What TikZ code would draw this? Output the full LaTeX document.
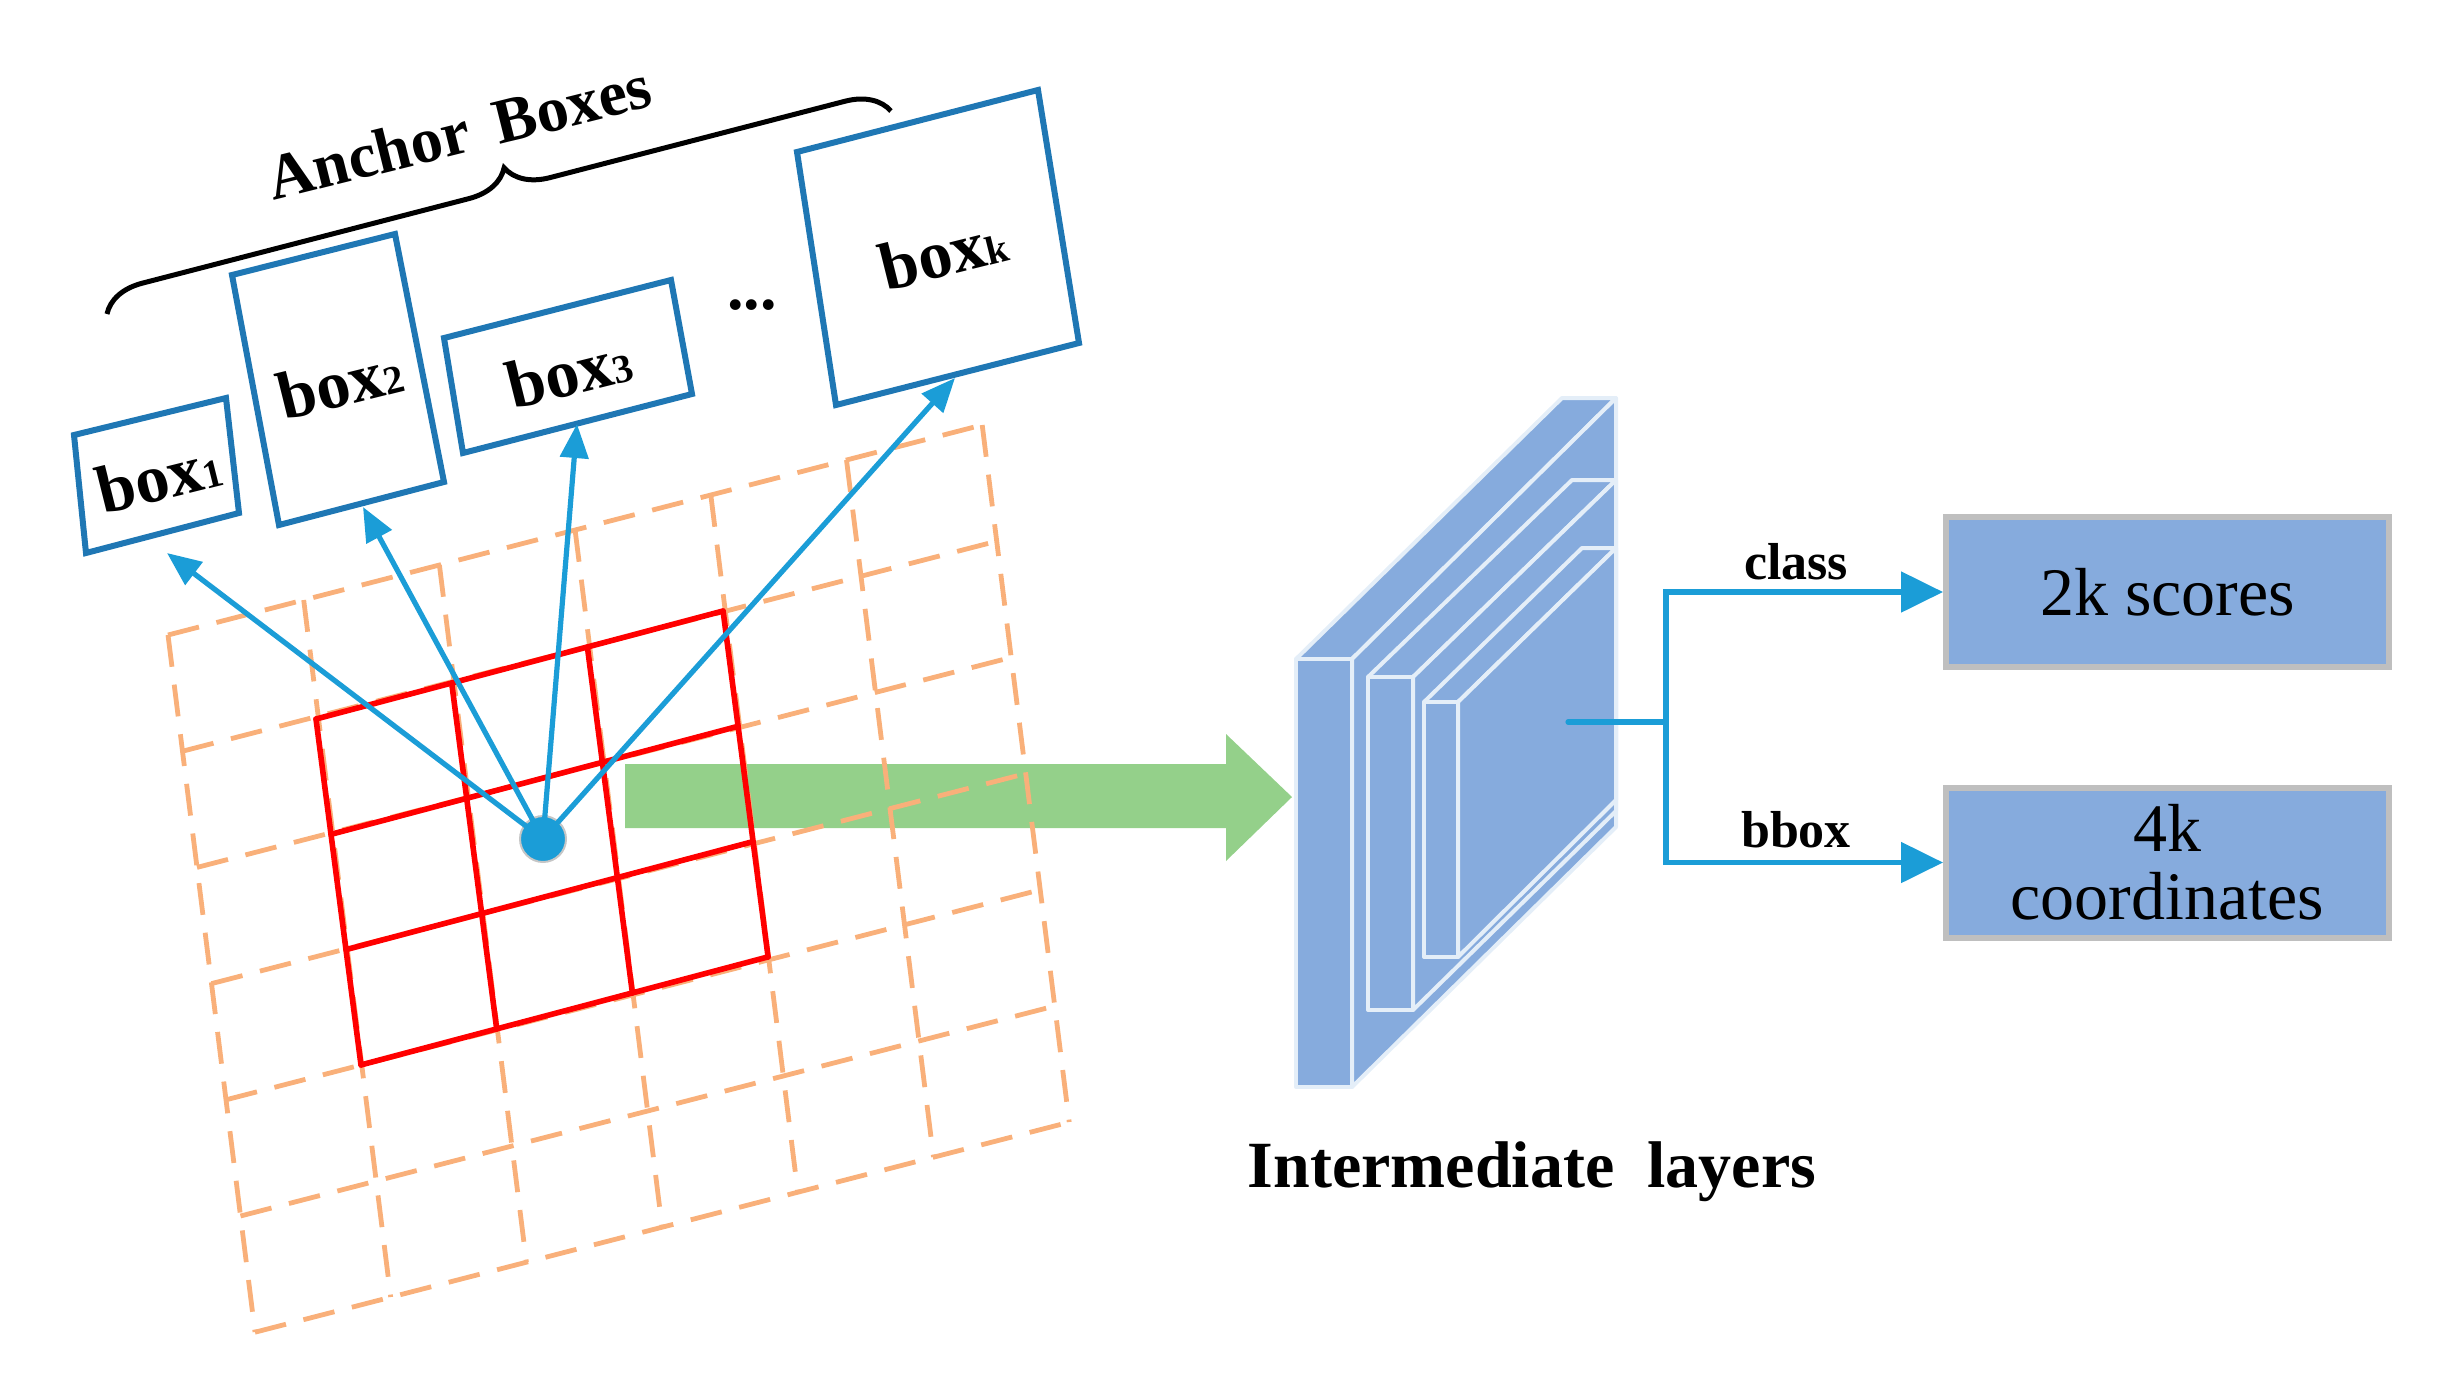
\documentclass[tikz,border=0pt]{standalone}
\usepackage{fontspec}
\setmainfont{Liberation Serif}
\usetikzlibrary{arrows.meta,decorations.pathreplacing,calc}
\definecolor{bxblue}{RGB}{31,119,180}
\definecolor{arblue}{RGB}{27,157,215}
\definecolor{dorange}{RGB}{249,176,122}
\definecolor{lgreen}{RGB}{148,208,138}
\definecolor{lblue}{RGB}{134,171,221}
\definecolor{ledge}{RGB}{228,238,248}
\definecolor{gbord}{RGB}{191,191,191}
\newcommand{\sbx}[1]{{\fontsize{20}{20}\selectfont #1}}
\begin{document}
\begin{tikzpicture}[x=0.5pt,y=-0.5pt,
  anchorbox/.style={draw=bxblue,line width=3pt,line join=miter},
  boxlbl/.style={font=\bfseries\fontsize{34}{36}\selectfont,rotate=14,inner sep=0pt},
  aarrow/.style={draw=arblue,line width=2.6pt,-{Triangle[length=17pt,width=14pt]}},
  garrow/.style={draw=dorange,line width=2.4pt,dash pattern=on 16pt off 9pt},
  rgrid/.style={draw=red,line width=2.8pt},
  layer/.style={fill=lblue,draw=ledge,line width=2pt,line join=round},
  outbox/.style={fill=lblue,draw=gbord,line width=3pt,minimum width=221.5pt,minimum height=75pt,font=\fontsize{34}{38}\selectfont,align=center,inner sep=0pt},
  carrow/.style={draw=arblue,line width=2.6pt,-{Triangle[length=21pt,width=20pt]}},
  clbl/.style={font=\bfseries\fontsize{26}{28}\selectfont}]
\useasboundingbox (0,0) rectangle (2453,1388);

% green arrow
\fill[lgreen] (625,764) -- (1226,764) -- (1226,734) -- (1292,797) -- (1226,861) -- (1226,828) -- (625,828) -- cycle;

% dashed grid
\foreach \i in {0,...,6}{
  \draw[garrow] ($(168,635)+\i*(135.7,-35)$) -- ++(87,697);
  \draw[garrow] ($(168,635)+\i*(14.5,116.2)$) -- ++(814.2,-210);
}
% red grid
\foreach \i in {0,...,3}{
  \draw[rgrid,line cap=round] ($(316,719)+\i*(135.7,-36)$) -- ++(45,346);
  \draw[rgrid,line cap=round] ($(316,719)+\i*(15,115.3)$) -- ++(407,-108);
}

% anchor boxes
\draw[anchorbox] (74,435) -- (226,398) -- (239,513) -- (86,553) -- cycle;
\draw[anchorbox] (232,275) -- (395,234) -- (444,482) -- (279,525) -- cycle;
\draw[anchorbox] (444,338) -- (671,280) -- (692,394) -- (463,453) -- cycle;
\draw[anchorbox] (797,152) -- (1038,90) -- (1079,343) -- (836,405) -- cycle;
\node[boxlbl] (b1) at (159,477) {box\sbx{1}};
\node[boxlbl] (b2) at (340,383) {box\sbx{2}};
\node[boxlbl] (b3) at (569,372) {box\sbx{3}};
\node[boxlbl] (bk) at (943,253) {box\sbx{k}};
\node[font=\bfseries\fontsize{33}{36}\selectfont,inner sep=0pt] (dots) at (752,305) {...};

% brace
\draw[line width=2.5pt,decorate,decoration={brace,amplitude=21pt,aspect=0.52}] (107,314) -- (891,111);
\node[font=\bfseries\fontsize{32}{36}\selectfont,rotate=14] (ab) at (459,132) {Anchor\, Boxes};

% arrows
\coordinate (t1) at (167,553);
\coordinate (t2) at (363,507);
\coordinate (t3) at (577,424);
\coordinate (tk) at (955,378);
\node[circle,fill=arblue,draw=gray!45,line width=1pt,minimum size=23pt,inner sep=0pt] (dot) at (543,839) {};
\draw[aarrow] (dot.center) -- (t1);
\draw[aarrow] (dot.center) -- (t2);
\draw[aarrow] (dot.center) -- (t3);
\draw[aarrow] (dot.center) -- (tk);
\fill[arblue] (dot) circle (10pt);

% layers
\draw[layer] (1296,659) -- (1352,659) -- (1616,398) -- (1562,398) -- cycle;
\draw[layer] (1352,659) -- (1616,398) -- (1616,827) -- (1352,1087) -- cycle;
\draw[layer] (1296,659) rectangle (1352,1087);
\draw[layer] (1368,677) -- (1413,677) -- (1616,480) -- (1572,480) -- cycle;
\draw[layer] (1413,677) -- (1616,480) -- (1616,811) -- (1413,1010) -- cycle;
\draw[layer] (1368,677) rectangle (1413,1010);
\draw[layer] (1424,702) -- (1458,702) -- (1616,548) -- (1582,548) -- cycle;
\draw[layer] (1458,702) -- (1616,548) -- (1616,800) -- (1458,957) -- cycle;
\draw[layer] (1424,702) rectangle (1458,957);
\node[font=\bfseries\fontsize{33}{36}\selectfont] (il) at (1532,1172) {Intermediate\ \ layers};

% outputs
\node[outbox] (sc) at (2167.5,592) {2k scores};
\node[outbox] (co) at (2167.5,862.5) {4k\\[-4pt]coordinates};
\coordinate (src) at (1568,722);
\coordinate (jn) at (1666,722);
\draw[arblue,line width=2.6pt,line cap=round] (src) -- (jn);
\draw[carrow] (jn) |- (sc.west);
\draw[carrow] (jn) |- (co.west);
\node[clbl] (cl) at (1796,562) {class};
\node[clbl] (bb) at (1796,830) {bbox};
\end{tikzpicture}
\end{document}
